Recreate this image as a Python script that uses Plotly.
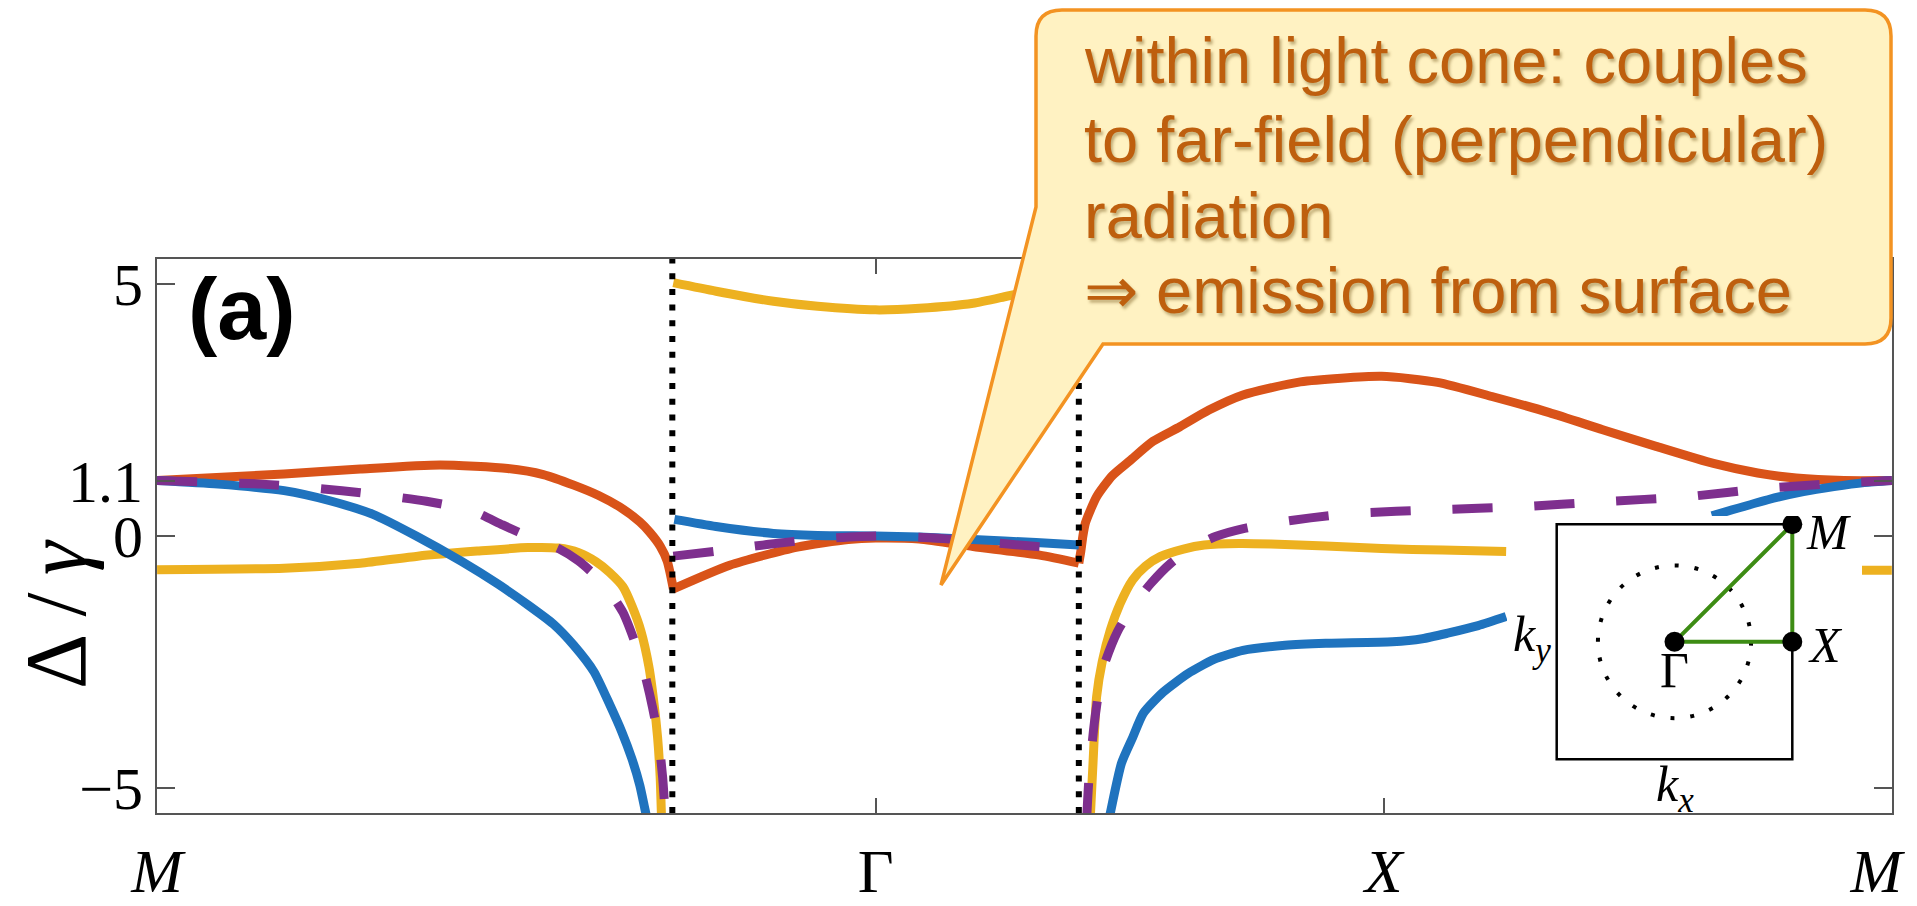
import plotly.graph_objects as go

# ---------------- data (k-path in units of pi/a: M -> Gamma -> X -> M) ----------------
tick_k = [0.0, 1.4142, 2.4142, 3.4142]
tick_txt = ["<i>M</i>", "Γ", "<i>X</i>", "<i>M</i>\u2002"]
light_cone_k = [1.014, 1.814]
y_ticks = [-5, 0, 1.1, 5]
y_tick_txt = ["−5", "0", "1.1", "5"]

red_a_k = [0.00, 0.25, 0.40, 0.557, 0.69, 0.76, 0.82, 0.87, 0.91, 0.95, 0.97, 0.99, 1.004, 1.010, 1.016]
red_a_d = [1.10, 1.23, 1.33, 1.41, 1.34, 1.22, 1.01, 0.80, 0.58, 0.28, 0.07, -0.20, -0.50, -0.75, -1.05]
red_b_k = [1.016, 1.127, 1.26, 1.36, 1.414, 1.50, 1.606, 1.737, 1.814]
red_b_d = [-1.05, -0.58, -0.22, -0.07, -0.04, -0.06, -0.21, -0.38, -0.54]
red_c_k = [1.814, 1.818, 1.822, 1.827, 1.849, 1.88, 1.915, 1.96, 2.013, 2.07, 2.137, 2.25, 2.41, 2.52, 2.627,
           2.74, 2.845, 2.95, 3.063, 3.15, 3.226, 3.32, 3.414]
red_c_d = [-0.54, -0.30, 0.00, 0.26, 0.78, 1.20, 1.50, 1.88, 2.17, 2.50, 2.80, 3.06, 3.17, 3.05, 2.77,
           2.45, 2.11, 1.78, 1.44, 1.25, 1.15, 1.10, 1.10]

blue_left_k = [0.00, 0.12, 0.25, 0.34, 0.425, 0.51, 0.60, 0.67, 0.73, 0.78, 0.82, 0.86, 0.89, 0.915, 0.934, 0.95, 0.96, 0.966]
blue_left_d = [1.10, 1.03, 0.90, 0.70, 0.43, 0.00, -0.51, -0.95, -1.37, -1.75, -2.17, -2.70, -3.33, -3.90, -4.41, -4.95, -5.42, -5.70]
blue_mid_k = [1.018, 1.10, 1.213, 1.30, 1.414, 1.50, 1.606, 1.73, 1.814]
blue_mid_d = [0.33, 0.19, 0.05, 0.01, 0.00, -0.02, -0.07, -0.13, -0.18]
blue_low_k = [1.872, 1.876, 1.898, 1.92, 1.941, 1.98, 2.029, 2.08, 2.137, 2.22, 2.30, 2.431, 2.49, 2.54, 2.60, 2.655]
blue_low_d = [-5.70, -5.50, -4.51, -4.00, -3.52, -3.10, -2.73, -2.45, -2.27, -2.17, -2.13, -2.10, -2.04, -1.93, -1.78, -1.60]
blue_top_k = [3.06, 3.10, 3.17, 3.24, 3.30, 3.36, 3.414]
blue_top_d = [0.40, 0.52, 0.72, 0.88, 0.98, 1.06, 1.10]

yel_left_k = [0.00, 0.25, 0.40, 0.513, 0.63, 0.73, 0.79, 0.83, 0.864, 0.89, 0.917, 0.935, 0.952, 0.968, 0.978, 0.985, 0.99, 0.993]
yel_left_d = [-0.67, -0.64, -0.54, -0.40, -0.30, -0.23, -0.24, -0.33, -0.51, -0.72, -1.01, -1.40, -1.88, -2.60, -3.33, -4.00, -4.77, -5.70]
yel_top_k = [1.016, 1.10, 1.213, 1.30, 1.414, 1.50, 1.606, 1.672, 1.70]
yel_top_d = [5.03, 4.86, 4.66, 4.56, 4.49, 4.52, 4.62, 4.76, 4.82]
yel_right_k = [1.836, 1.838, 1.842, 1.849, 1.86, 1.876, 1.895, 1.92, 1.945, 1.974, 2.02, 2.061, 2.13, 2.192, 2.30, 2.41, 2.53, 2.655]
yel_right_d = [-5.70, -5.30, -4.50, -3.19, -2.50, -1.87, -1.35, -0.87, -0.60, -0.41, -0.26, -0.18, -0.15, -0.16, -0.20, -0.25, -0.28, -0.31]
yel_end_k = [3.34, 3.414]
yel_end_d = [-0.68, -0.68]

pur_left_k = [0.00, 0.206, 0.364, 0.53, 0.62, 0.68, 0.74, 0.79, 0.83, 0.864, 0.89, 0.917, 0.94, 0.96, 0.975, 0.987, 0.995, 1.001]
pur_left_d = [1.10, 1.03, 0.90, 0.69, 0.50, 0.22, -0.05, -0.25, -0.50, -0.80, -1.10, -1.52, -2.10, -2.75, -3.40, -4.05, -4.80, -5.70]
pur_mid_k = [1.016, 1.10, 1.20, 1.30, 1.414, 1.53, 1.63, 1.72, 1.812]
pur_mid_d = [-0.40, -0.30, -0.17, -0.06, 0.00, -0.04, -0.12, -0.20, -0.26]
pur_right_k = [1.829, 1.834, 1.843, 1.853, 1.865, 1.89, 1.92, 1.955, 1.995, 2.04, 2.083, 2.14, 2.192, 2.27, 2.355,
               2.519, 2.682, 2.845, 3.01, 3.17, 3.335, 3.414]
pur_right_d = [-5.70, -4.80, -3.85, -3.10, -2.53, -1.90, -1.40, -0.95, -0.54, -0.22, -0.01, 0.15, 0.25, 0.36, 0.45,
               0.52, 0.58, 0.68, 0.78, 0.95, 1.06, 1.10]

# Brillouin-zone inset (units of pi/a)
bz_path_x = [0, 1, 1, 0]
bz_path_y = [0, 0, 1, 0]
bz_pts_x = [0, 1, 1]
bz_pts_y = [0, 0, 1]
bz_pts_lbl = ["Γ", "<i>X</i>", "<i>M</i>"]
light_circle_r = 0.65

callout_lines = ["within light cone: couples",
                 "to far-field (perpendicular)",
                 "radiation",
                 "⇒ emission from surface"]

# ---------------- layout geometry (screen pixels; page body has an 8 px margin) ----------------
OFF = 8
W, H = 1917 - OFF, 906 - OFF
L, R, T, B = 157, 1892, 259, 813
PW, PH = R - L, B - T


def px(xp):
    return (xp - L) / PW


def py(yp):
    return (B - yp) / PH


def join(*segs):
    xs, ys = [], []
    for i, (a, b) in enumerate(segs):
        if i:
            xs.append(None)
            ys.append(None)
        xs += a
        ys += b
    return xs, ys


RED, BLUE, YEL, PUR = "#D95319", "#1F73BE", "#EDB120", "#7E2F8E"
LW = 9
SPL = dict(shape="spline", smoothing=0.6)

fig = go.Figure()
rx, ry = join((red_a_k, red_a_d), (red_b_k, red_b_d), (red_c_k, red_c_d))
fig.add_trace(go.Scatter(x=rx, y=ry, mode="lines", line=dict(color=RED, width=LW, **SPL), showlegend=False))
yx, yy = join((yel_left_k, yel_left_d), (yel_top_k, yel_top_d), (yel_right_k, yel_right_d), (yel_end_k, yel_end_d))
fig.add_trace(go.Scatter(x=yx, y=yy, mode="lines", line=dict(color=YEL, width=LW, **SPL), showlegend=False))
bx, by = join((blue_left_k, blue_left_d), (blue_mid_k, blue_mid_d), (blue_low_k, blue_low_d), (blue_top_k, blue_top_d))
fig.add_trace(go.Scatter(x=bx, y=by, mode="lines", line=dict(color=BLUE, width=LW, **SPL), showlegend=False))
ux, uy = join((pur_left_k, pur_left_d), (pur_mid_k, pur_mid_d), (pur_right_k, pur_right_d))
fig.add_trace(go.Scatter(x=ux, y=uy, mode="lines",
                         line=dict(color=PUR, width=LW, dash="40px,42px", **SPL), showlegend=False))

# inset traces
fig.add_trace(go.Scatter(x=bz_path_x, y=bz_path_y, xaxis="x2", yaxis="y2", mode="lines",
                         line=dict(color="#3D8C14", width=4), showlegend=False))
fig.add_trace(go.Scatter(x=bz_pts_x, y=bz_pts_y, xaxis="x2", yaxis="y2", mode="markers",
                         marker=dict(color="black", size=20), showlegend=False))

shapes = []
for k in light_cone_k:
    shapes.append(dict(type="line", xref="x", yref="paper", x0=k, x1=k, y0=0, y1=1, layer="above",
                       line=dict(color="black", width=6, dash="6px,9.7px")))
shapes.append(dict(type="rect", xref="x2", yref="y2", x0=-1, x1=1, y0=-1, y1=1, layer="below",
                   line=dict(color="black", width=2.5)))
shapes.append(dict(type="circle", xref="x2", yref="y2", x0=-light_circle_r, x1=light_circle_r,
                   y0=-light_circle_r, y1=light_circle_r, layer="below",
                   line=dict(color="black", width=4, dash="4px,16px")))

# callout balloon
bl, br, bt, bb, r = 1036, 1891, 10, 344, 26
path = (f"M {px(bl + r)},{py(bt)} L {px(br - r)},{py(bt)} Q {px(br)},{py(bt)} {px(br)},{py(bt + r)} "
        f"L {px(br)},{py(bb - r)} Q {px(br)},{py(bb)} {px(br - r)},{py(bb)} "
        f"L {px(1103)},{py(bb)} L {px(941)},{py(585)} L {px(bl)},{py(207)} "
        f"L {px(bl)},{py(bt + r)} Q {px(bl)},{py(bt)} {px(bl + r)},{py(bt)} Z")
shapes.append(dict(type="path", xref="paper", yref="paper", path=path, layer="above",
                   fillcolor="#FFF2C2", line=dict(color="#F39322", width=3.5)))

annotations = []
baselines = [78, 157, 233, 308]
for txt, bl_y in zip(callout_lines, baselines):
    annotations.append(dict(text=txt, xref="paper", yref="paper", x=px(1082), y=py(bl_y - 18),
                            xanchor="left", yanchor="middle", showarrow=False,
                            font=dict(family="Liberation Sans", size=65, color="#BE5F0E",
                                      shadow="2px 3px 3px rgba(120,90,30,0.45)")))

annotations.append(dict(text="<b>(a)</b>", xref="paper", yref="paper", x=px(186), y=py(308),
                        xanchor="left", yanchor="middle", showarrow=False,
                        font=dict(family="Liberation Sans", size=88, color="black")))
annotations.append(dict(text="Δ\u2009/\u2009<i>γ</i>", xref="paper", yref="paper", x=px(56), y=py(614),
                        xanchor="center", yanchor="middle", showarrow=False, textangle=-90,
                        font=dict(family="Liberation Serif", size=86, color="black")))

SER = dict(family="Liberation Serif", size=50, color="black")
annotations += [
    dict(text=bz_pts_lbl[2], xref="x2", yref="y2", x=1, y=1, xanchor="left", yanchor="middle",
         xshift=12, yshift=-8, showarrow=False, font=SER),
    dict(text=bz_pts_lbl[1], xref="x2", yref="y2", x=1, y=0, xanchor="left", yanchor="middle",
         xshift=14, yshift=-3, showarrow=False, font=SER),
    dict(text=bz_pts_lbl[0], xref="x2", yref="y2", x=0, y=0, xanchor="center", yanchor="top",
         yshift=2, showarrow=False, font=SER),
    dict(text="<i>k</i><sub><i>y</i></sub>", xref="x2", yref="y2", x=-1, y=0, xanchor="right",
         yanchor="middle", xshift=-4, yshift=4, showarrow=False, font=SER),
    dict(text="<i>k</i><sub><i>x</i></sub>", xref="x2", yref="y2", x=0, y=-1, xanchor="center",
         yanchor="top", yshift=5, showarrow=False, font=SER),
]

# inset subplot placement (screen px) and ranges so that the zone box [-1,1] lands on 1556.7..1792.3 x 524.3..759.3
ix0, ix1, iy0, iy1 = 1507, 1862, 516, 812
bx0, bx1, by0, by1 = 1556.7, 1792.3, 524.3, 759.3
ux_ = (bx1 - bx0) / 2
uy_ = (by1 - by0) / 2
x2_range = [-1 - (bx0 - ix0) / ux_, 1 + (ix1 - bx1) / ux_]
y2_range = [-1 - (iy1 - by1) / uy_, 1 + (by0 - iy0) / uy_]

AX = "#555555"
fig.update_layout(
    width=W, height=H, autosize=False,
    margin=dict(l=L - OFF, r=1917 - R, t=T - OFF, b=906 - B, pad=0, autoexpand=False),
    paper_bgcolor="white", plot_bgcolor="white",
    shapes=shapes, annotations=annotations,
    xaxis=dict(range=[-0.0002, 3.4144], tickvals=tick_k, ticktext=tick_txt, automargin=False,
               ticks="inside", ticklen=15, tickwidth=1.5, tickcolor=AX, ticklabeloverflow="allow",
               showline=True, linecolor=AX, linewidth=2, mirror="ticks",
               showgrid=False, zeroline=False, ticklabelstandoff=3,
               tickfont=dict(family="Liberation Serif", size=62, color="black")),
    yaxis=dict(range=[-5.5, 5.5], tickvals=y_ticks, ticktext=y_tick_txt, automargin=False,
               ticks="inside", ticklen=18, tickwidth=1.5, tickcolor=AX,
               showline=True, linecolor=AX, linewidth=2, mirror="ticks",
               showgrid=False, zeroline=False, ticklabelstandoff=0,
               tickfont=dict(family="Liberation Serif", size=60, color="black")),
    xaxis2=dict(domain=[px(ix0), px(ix1)], anchor="y2", range=x2_range, visible=False,
                showgrid=False, zeroline=False, automargin=False),
    yaxis2=dict(domain=[py(iy1), py(iy0)], anchor="x2", range=y2_range, visible=False,
                showgrid=False, zeroline=False, automargin=False),
)

fig.write_html("out.html")
